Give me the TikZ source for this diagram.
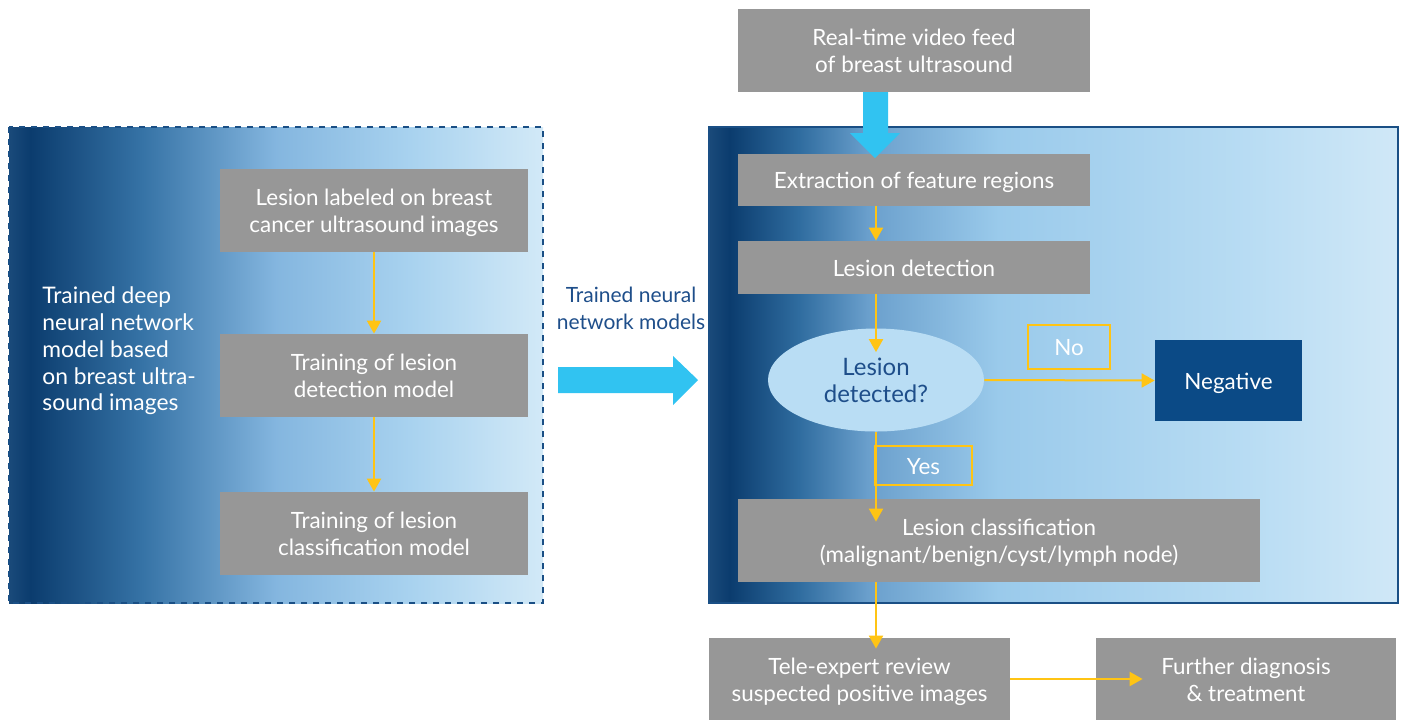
\documentclass[tikz,border=0pt]{standalone}
\usepackage{fontspec}
\setmainfont{Lato}
\usetikzlibrary{arrows.meta,shapes.geometric,calc}
\definecolor{boxgray}{HTML}{979797}
\definecolor{navybox}{HTML}{0B4A86}
\definecolor{navytext}{HTML}{1E4E8A}
\definecolor{navyline}{HTML}{1A4F85}
\definecolor{ylw}{HTML}{FFC414}
\definecolor{fatcyan}{HTML}{31C3F1}
\definecolor{ellfill}{HTML}{B9DDF4}
\definecolor{ga}{HTML}{1A4A7A}
\definecolor{gb}{HTML}{0B3C6E}
\definecolor{gc}{HTML}{3673A6}
\definecolor{gd}{HTML}{84B6DF}
\definecolor{ge}{HTML}{A8D2EF}
\definecolor{gf}{HTML}{D2E9F7}
\definecolor{rb}{HTML}{2F6C9F}
\definecolor{rc}{HTML}{6A9FCC}
\definecolor{rd}{HTML}{9ACAEB}
\definecolor{re}{HTML}{B8DCF3}
\definecolor{rf}{HTML}{D0E8F7}
\pgfdeclarehorizontalshading{leftgrad}{100bp}{color(0bp)=(ga); color(25bp)=(ga); color(27bp)=(gb); color(37.5bp)=(gc); color(50bp)=(gd); color(62.5bp)=(ge); color(75bp)=(gf); color(100bp)=(gf)}
\pgfdeclarehorizontalshading{rightgrad}{100bp}{color(0bp)=(ga); color(25bp)=(ga); color(26.5bp)=(gb); color(31.5bp)=(rb); color(36.5bp)=(rc); color(46bp)=(rd); color(64bp)=(re); color(75bp)=(rf); color(100bp)=(rf)}
\newcommand\lw[1]{\raisebox{-1.75pt}[\height][\depth]{\begin{tabular}{@{}c@{}}#1\end{tabular}}}
\begin{document}
\begin{tikzpicture}[x=0.5pt,y=-0.5pt,
  wpx/.style={minimum width=#1*0.5pt},
  hpx/.style={minimum height=#1*0.5pt},
  bodyfont/.style={font=\fontsize{11.2}{13.5}\selectfont},
  graybox/.style={fill=boxgray,text=white,inner sep=0pt,bodyfont},
  lblbox/.style={draw=ylw,line width=0.6pt,text=white,inner sep=0pt,bodyfont},
  yarrow/.style={draw=ylw,line width=1pt,-{Triangle[width=7pt,length=6.5pt]}}]
\useasboundingbox (0,0) rectangle (1403,720);
% left panel
\path[shading=leftgrad] (9,127) rectangle (543,603);
\draw[navyline,dashed,line width=0.6pt] (9,127) rectangle (543,603);
\node[graybox,wpx=308,hpx=83] (lab) at (374,210.5) {\lw{Lesion labeled on breast\\cancer ultrasound images}};
\node[graybox,wpx=308,hpx=83] (det) at (374,375.5) {\lw{Training of lesion\\detection model}};
\node[graybox,wpx=308,hpx=83] (cls) at (374,533.5) {\lw{Training of lesion\\classification model}};
\node[anchor=west,align=left,text=white,inner sep=0pt,font=\fontsize{11.4}{13.4}\selectfont] (ltxt) at (42,351) {Trained deep\\neural network\\model based\\on breast ultra-\\sound images};
\draw[yarrow] (lab.south) -- (det.north);
\draw[yarrow] (det.south) -- (cls.north);
% middle
\node[align=center,text=navytext,inner sep=0pt,font=\fontsize{10.5}{13.5}\selectfont] (mtxt) at (631,308) {Trained neural\\network models};
\fill[fatcyan] (558,367) -- (673,367) -- (673,356) -- (698,380) -- (673,405) -- (673,393) -- (558,393) -- cycle;
% right panel
\path[shading=rightgrad] (709,127) rectangle (1398,603);
\draw[navyline,line width=0.6pt] (709,127) rectangle (1398,603);
\node[graybox,wpx=352,hpx=83] (feed) at (914,50.5) {\lw{Real-time video feed\\of breast ultrasound}};
\node[graybox,wpx=352,hpx=52] (ext) at (914,180) {\lw{Extraction of feature regions}};
\fill[fatcyan] (863,92) -- (888,92) -- (888,133) -- (900,133) -- (875,158) -- (850,133) -- (863,133) -- cycle;
\node[graybox,wpx=352,hpx=53] (ldet) at (914,267.5) {\lw{Lesion detection}};
\node[ellipse,fill=ellfill,text=navytext,inner sep=0pt,wpx=216,hpx=103,font=\fontsize{12}{13.5}\selectfont] (q) at (876,380) {\lw{Lesion\\detected?}};
\node[fill=navybox,text=white,inner sep=0pt,wpx=147,hpx=81,bodyfont] (neg) at (1228.5,380.5) {\lw{Negative}};
\node[lblbox,wpx=82,hpx=44] (no) at (1069,347) {\lw{No}};
\node[lblbox,wpx=97,hpx=39] (yes) at (923.5,465.5) {\lw{Yes}};
\node[graybox,wpx=522,hpx=83] (lcls) at (999,540.5) {\lw{Lesion classification\\(malignant/benign/cyst/lymph node)}};
\node[graybox,wpx=301,hpx=82] (tele) at (859.5,679) {\lw{Tele-expert review\\suspected positive images}};
\node[graybox,wpx=300,hpx=82] (fur) at (1246,679) {\lw{Further diagnosis\\\& treatment}};
\coordinate (qin) at ($(q.north)+(0,24)$);
\coordinate (lclsin) at ($(lcls.north -| q)+(0,23)$);
\coordinate (telein) at ($(tele.north -| q)+(0,11)$);
\coordinate (furin) at ($(fur.west)+(47,0)$);
\draw[yarrow] (ext.south -| q) -- (ldet.north -| q);
\draw[yarrow] (ldet.south -| q) -- (qin);
\draw[yarrow] (q.east) -- (neg.west);
\draw[yarrow] (q.south) -- (lclsin);
\draw[yarrow] (lcls.south -| q) -- (telein);
\draw[yarrow] (tele.east) -- (furin);
\end{tikzpicture}
\end{document}
